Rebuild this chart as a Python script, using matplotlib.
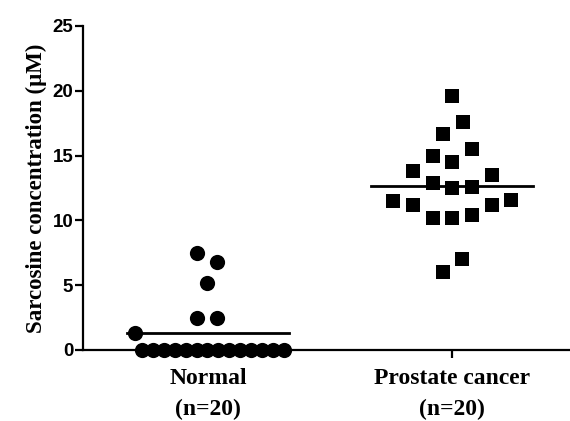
import matplotlib
matplotlib.use("Agg")
import matplotlib.pyplot as plt
import numpy as np

# ---- data ----
categories = ["Normal", "Prostate cancer"]
group_n = ["(n=20)", "(n=20)"]
normal_values = [7.5, 6.8, 5.2, 2.5, 2.5, 1.3] + [0.0] * 14
cancer_values = [19.6, 17.6, 16.7, 15.5, 15.0, 14.5, 13.8, 13.5, 12.9, 12.5,
                 12.6, 11.5, 11.2, 11.6, 11.2, 10.2, 10.2, 10.4, 7.0, 6.0]
y_ticks = [0, 5, 10, 15, 20, 25]

# horizontal scatter offsets (fraction of group spacing)
normal_jitter = [-0.045, 0.037, -0.004, -0.045, 0.037, -0.30] + \
    list(np.linspace(-0.27, 0.31, 14))
cancer_jitter = [0.0, 0.044, -0.038, 0.081, -0.079, 0.0, -0.159, 0.163,
                 -0.079, 0.0, 0.082, -0.241, -0.159, 0.241, 0.163,
                 -0.079, 0.0, 0.082, 0.041, -0.038]

fig = plt.figure(figsize=(5.7, 4.21), dpi=100)
ax = fig.add_axes([83 / 570, 71 / 421, 1 - 83 / 570, (350 - 26) / 421])

ax.scatter(1 + np.array(normal_jitter), normal_values, s=120, marker="o",
           color="black", zorder=3, clip_on=False, linewidths=0)
ax.scatter(2 + np.array(cancer_jitter), cancer_values, s=110, marker="s",
           color="black", zorder=3, clip_on=False, linewidths=0)

for xc, vals in [(1, normal_values), (2, cancer_values)]:
    m = np.mean(vals)
    ax.plot([xc - 0.333, xc + 0.333], [m, m], color="black", lw=2.0, zorder=4)

ax.set_xlim(1 - 125 / 244, 2 + 118 / 244)
ax.set_ylim(0, 25)
ax.set_yticks(y_ticks)
ax.set_yticklabels([str(t) for t in y_ticks], fontfamily="Liberation Sans",
                   fontsize=13.5, fontweight="bold")
ax.set_xticks([1, 2])
ax.set_xticklabels([f"{c}\n{n}" for c, n in zip(categories, group_n)],
                   fontfamily="Liberation Serif", fontsize=17,
                   fontweight="bold", linespacing=1.6)

ax.spines["top"].set_visible(False)
ax.spines["right"].set_visible(False)
for s in ["left", "bottom"]:
    ax.spines[s].set_linewidth(1.6)
ax.tick_params(axis="both", width=1.6, length=6, color="black")
ax.tick_params(axis="y", pad=1)
ax.tick_params(axis="x", pad=7)

ax.set_ylabel("Sarcosine concentration (μM)", fontfamily="Liberation Serif",
              fontsize=16.5, fontweight="bold", labelpad=4)

fig.savefig("out.png", dpi=100)
